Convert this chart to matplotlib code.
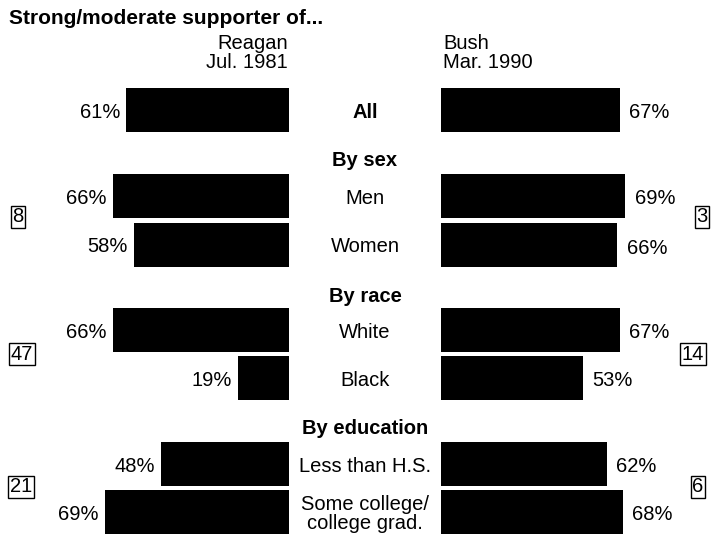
import matplotlib
matplotlib.use('Agg')
import matplotlib.pyplot as plt

plt.rcParams['font.family'] = ['Liberation Sans', 'DejaVu Sans']

# data
groups = ['All', 'Men', 'Women', 'White', 'Black', 'Less than H.S.', 'Some college/\ncollege grad.']
reagan = [61, 66, 58, 66, 19, 48, 69]
bush = [67, 69, 66, 67, 53, 62, 68]
sections = ['By sex', 'By race', 'By education']
gap_left = [8, 47, 21]
gap_right = [3, 14, 6]

# layout (pixels, y from top)
W, H = 713, 539
bar_y = [110, 196, 245, 330, 378, 464, 512]
section_y = [160, 296, 429]
box_y = [217, 354, 487]
px_per_pct = 2.67
left_edge, right_start = 289, 441

fig = plt.figure(figsize=(W / 100, H / 100), dpi=100)

axl = fig.add_axes([0, 0, left_edge / W, 1])
axr = fig.add_axes([right_start / W, 0, (W - right_start) / W, 1])
axl.set_xlim(left_edge / px_per_pct, 0)
axr.set_xlim(0, (W - right_start) / px_per_pct)
for ax in (axl, axr):
    ax.set_ylim(H, 0)
    ax.axis('off')

fs = 14.5
axl.barh(bar_y, reagan, height=44, color='black')
axr.barh(bar_y, bush, height=44, color='black')
for y, v in zip(bar_y, reagan):
    axl.text(v + 2.3, y + 2, f'{v}%', ha='right', va='center', fontsize=fs)
for y, v in zip(bar_y, bush):
    axr.text(v + 3.5, y + 3, f'{v}%', ha='left', va='center', fontsize=fs)

# overlay for text
axt = fig.add_axes([0, 0, 1, 1])
axt.set_xlim(0, W)
axt.set_ylim(H, 0)
axt.axis('off')
axt.patch.set_alpha(0)

axt.text(9, 18, 'Strong/moderate supporter of...', fontsize=15, fontweight='bold',
         ha='left', va='center')
axt.text(288, 53, 'Reagan\nJul. 1981', fontsize=fs, ha='right', va='center', linespacing=0.95)
axt.text(443, 53, 'Bush\nMar. 1990', fontsize=fs, ha='left', va='center', linespacing=0.95)

cx = 365
for i, (g, y) in enumerate(zip(groups, bar_y)):
    axt.text(cx, y + 2, g, fontsize=fs, ha='center', va='center',
             fontweight='bold' if g == 'All' else 'normal', linespacing=1.05)
for s, y in zip(sections, section_y):
    axt.text(cx, y, s, fontsize=fs, ha='center', va='center', fontweight='bold')

box = dict(boxstyle='square,pad=0.08', fc='white', ec='black', lw=1)
for v, y, x in zip(gap_left, box_y, [18, 22, 21]):
    axt.text(x, y, str(v), fontsize=fs, ha='center', va='center', bbox=box)
for v, y, x in zip(gap_right, box_y, [702, 693, 698]):
    axt.text(x, y, str(v), fontsize=fs, ha='center', va='center', bbox=box)

fig.savefig('out.png', dpi=100, facecolor='white')
